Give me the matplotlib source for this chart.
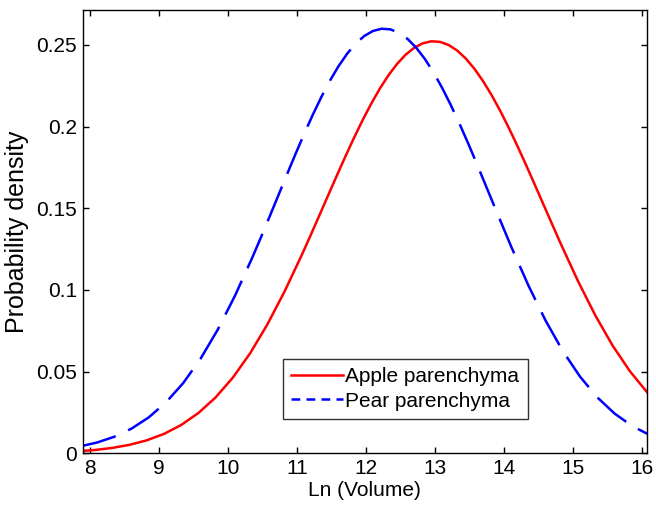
import matplotlib
matplotlib.use("Agg")
import matplotlib.pyplot as plt
from matplotlib.lines import Line2D

plt.rcParams['font.family'] = ['Liberation Sans', 'DejaVu Sans']

apple_ln_volume = [7.82, 8.07, 8.32, 8.57, 8.82, 9.07, 9.32, 9.57, 9.82, 10.07, 10.32, 10.57,
                   10.82, 11.07, 11.195, 11.32, 11.445, 11.57, 11.695, 11.82, 11.945, 12.07,
                   12.195, 12.32, 12.445, 12.57, 12.695, 12.82, 12.945, 13.07, 13.195, 13.32,
                   13.445, 13.57, 13.695, 13.82, 13.945, 14.07, 14.195, 14.32, 14.445, 14.57,
                   14.82, 15.07, 15.32, 15.57, 15.82, 16.07, 16.32]

apple_density = [0.00123, 0.00203, 0.00328, 0.00516, 0.00792, 0.01185, 0.01732, 0.02466,
                 0.03425, 0.04639, 0.06128, 0.07897, 0.09924, 0.12164, 0.13340, 0.14541,
                 0.15750, 0.16953, 0.18135, 0.19277, 0.20364, 0.21379, 0.22304, 0.23125,
                 0.23826, 0.24396, 0.24824, 0.25101, 0.25224, 0.25189, 0.24998, 0.24654,
                 0.24162, 0.23533, 0.22778, 0.21909, 0.20943, 0.19894, 0.18780, 0.17618,
                 0.16425, 0.15217, 0.12820, 0.10532, 0.08439, 0.06596, 0.05027, 0.03737,
                 0.02711]

pear_ln_volume = [7.85, 8.1, 8.35, 8.6, 8.85, 9.1, 9.35, 9.6, 9.85, 10.1, 10.35, 10.475,
                  10.6, 10.725, 10.85, 10.975, 11.1, 11.225, 11.35, 11.475, 11.6, 11.725,
                  11.85, 11.975, 12.1, 12.225, 12.35, 12.475, 12.6, 12.725, 12.85, 12.975,
                  13.1, 13.225, 13.35, 13.475, 13.6, 13.725, 13.85, 14.1, 14.35, 14.6,
                  14.85, 15.1, 15.35, 15.6, 15.85, 16.1, 16.35]

pear_density = [0.00417, 0.00658, 0.01010, 0.01509, 0.02197, 0.03115, 0.04300, 0.05781,
                0.07568, 0.09647, 0.11976, 0.13212, 0.14477, 0.15759, 0.17042, 0.18306,
                0.19534, 0.20707, 0.21805, 0.22809, 0.23701, 0.24466, 0.25088, 0.25555,
                0.25859, 0.25993, 0.25955, 0.25746, 0.25369, 0.24832, 0.24146, 0.23324,
                0.22380, 0.21332, 0.20199, 0.19000, 0.17753, 0.16478, 0.15194, 0.12664,
                0.10277, 0.08121, 0.06251, 0.04684, 0.03418, 0.02429, 0.01681, 0.01133,
                0.00743]

x_ticks = [8, 9, 10, 11, 12, 13, 14, 15, 16]
y_ticks = [0, 0.05, 0.1, 0.15, 0.2, 0.25]
y_tick_labels = ['0', '0.05', '0.1', '0.15', '0.2', '0.25']
series_labels = ['Apple parenchyma', 'Pear parenchyma']

fig = plt.figure(figsize=(6.56, 5.07), dpi=100)
ax = fig.add_axes([82.7/656, 1 - 453.3/507, 564/656, 443.3/507])

ax.plot(apple_ln_volume, apple_density, color='#ff0000', lw=1.8)
ax.plot(pear_ln_volume, pear_density, color='#0000ff', lw=1.8, dashes=(15, 5.5))

ax.set_xlim(7.894, 16.064)
ax.set_ylim(0, 0.2714)
ax.set_xticks(x_ticks)
ax.set_yticks(y_ticks)
ax.set_yticklabels(y_tick_labels)
ax.tick_params(direction='in', top=True, right=True, length=4, width=1,
               labelsize=15, colors='black', pad=4)
for s in ax.spines.values():
    s.set_linewidth(1.0)
    s.set_color('black')

ax.set_xlabel('Ln (Volume)', fontsize=15, labelpad=2)
ax.set_ylabel('Probability density', fontsize=18, labelpad=5)

handles = [Line2D([], [], color='#ff0000', lw=1.8),
           Line2D([], [], color='#0000ff', lw=1.8, dashes=(3.5, 2.5))]
leg = ax.legend(handles, series_labels, loc='lower left',
                bbox_to_anchor=(0.355, 0.0774), borderaxespad=0,
                fontsize=15, frameon=True, fancybox=False, handlelength=2.5,
                handletextpad=0.1, borderpad=0.4, labelspacing=0.25)
leg.get_frame().set_edgecolor('black')
leg.get_frame().set_linewidth(1.0)

fig.savefig('out.png', dpi=100)
